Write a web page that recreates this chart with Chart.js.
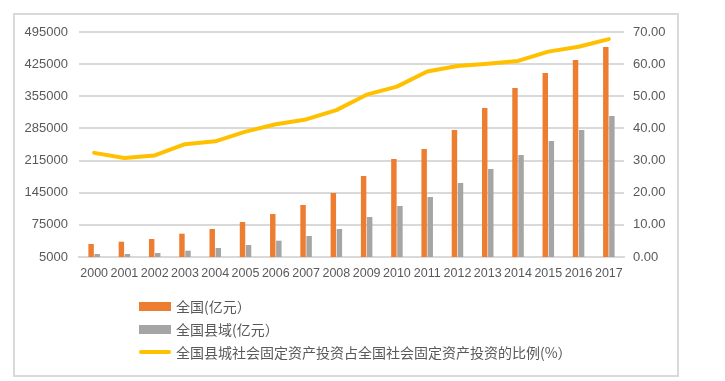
<!DOCTYPE html>
<html>
<head>
<meta charset="utf-8">
<script src="https://cdn.jsdelivr.net/npm/chart.js@4.4.1/dist/chart.umd.min.js"></script>
<style>
  html, body { margin: 0; padding: 0; background: #fff; }
  #wrap { position: relative; width: 725px; height: 381px; overflow: hidden; }
  #frame { position: absolute; left: 13px; top: 13px; width: 662px; height: 360px; border: 2px solid #d9d9d9; pointer-events: none; }
  #c { position: absolute; left: 0; top: 0; }
  #legend { position: absolute; left: 139px; top: 296px; font-family: "Noto Sans CJK SC", sans-serif; font-size: 14px; color: #595959; }
  .item { position: relative; height: 23px; line-height: 20px; white-space: nowrap; }
  .sw { position: absolute; left: 0; width: 32px; }
  .txt { position: absolute; left: 37px; top: 0; }
</style>
</head>
<body>
<div id="wrap">
  <canvas id="c" width="725" height="381"></canvas>
  <div id="frame"></div>
  <div id="legend"></div>
</div>
<script>
const categories = ["2000","2001","2002","2003","2004","2005","2006","2007","2008","2009","2010","2011","2012","2013","2014","2015","2016","2017"];
const nationalValues = [33300, 38300, 44200, 55800, 66000, 81200, 98600, 118300, 144400, 181400, 218400, 240200, 281600, 329500, 373000, 405700, 434000, 462300];
const countyValues = [11500, 11500, 13700, 18700, 24600, 31100, 40500, 50700, 66000, 92100, 116100, 135700, 166200, 196600, 227100, 257600, 281600, 312100];
const ratioValues = [32.4, 30.8, 31.6, 35.1, 36.0, 39.0, 41.3, 42.8, 45.7, 50.5, 53.0, 57.7, 59.4, 60.1, 61.0, 63.9, 65.4, 67.8];
const seriesNames = ["全国(亿元）", "全国县域(亿元）", "全国县城社会固定资产投资占全国社会固定资产投资的比例(%）"];
const leftTicks = { min: 5000, max: 495000, step: 70000 };
const rightTicks = { min: 0, max: 70, step: 10 };

const colors = ["#ED7D31", "#A5A5A5", "#FFC000"];
const tickColor = "#595959";
const gridColor = "#d9d9d9";

const chart = new Chart(document.getElementById("c"), {
  data: {
    labels: categories,
    datasets: [
      { type: "bar", label: seriesNames[0], data: nationalValues, backgroundColor: colors[0], yAxisID: "y", order: 2, categoryPercentage: 0.4, barPercentage: 0.9 },
      { type: "bar", label: seriesNames[1], data: countyValues, backgroundColor: colors[1], yAxisID: "y", order: 2, categoryPercentage: 0.4, barPercentage: 0.9 },
      { type: "line", label: seriesNames[2], data: ratioValues, borderColor: colors[2], backgroundColor: colors[2], borderWidth: 4, pointRadius: 0, tension: 0, yAxisID: "y1", order: 1, borderCapStyle: "round", borderJoinStyle: "round" }
    ]
  },
  options: {
    responsive: false,
    animation: false,
    devicePixelRatio: 1,
    layout: { padding: { top: 32, bottom: 0, left: 0, right: 0 } },
    plugins: { legend: { display: false }, tooltip: { enabled: false } },
    scales: {
      x: {
        type: "category",
        offset: true,
        grid: { display: false, drawTicks: false },
        border: { display: true, color: gridColor, width: 2 },
        ticks: { color: tickColor, font: { family: "'Liberation Sans Narrow', 'Liberation Sans', sans-serif", size: 12.5 }, padding: 9, maxRotation: 0, autoSkip: false },
        afterFit: s => { s.height = 124; }
      },
      y: {
        type: "linear",
        position: "left",
        min: leftTicks.min,
        max: leftTicks.max,
        grid: { color: gridColor, lineWidth: 2, drawTicks: false },
        border: { display: false },
        ticks: { stepSize: leftTicks.step, color: tickColor, font: { family: "'Liberation Sans', sans-serif", size: 13 }, padding: 11, callback: v => String(v) },
        afterFit: s => { s.width = 79; }
      },
      y1: {
        type: "linear",
        position: "right",
        min: rightTicks.min,
        max: rightTicks.max,
        grid: { display: false, drawTicks: false },
        border: { display: false },
        ticks: { stepSize: rightTicks.step, color: tickColor, font: { family: "'Liberation Sans', sans-serif", size: 13 }, padding: 9, callback: v => Number(v).toFixed(2) },
        afterFit: s => { s.width = 101; }
      }
    }
  }
});

// HTML legend built from the chart's datasets
const legend = document.getElementById("legend");
chart.data.datasets.forEach(ds => {
  const item = document.createElement("div");
  item.className = "item";
  const sw = document.createElement("span");
  sw.className = "sw";
  if (ds.type === "line") {
    sw.style.top = "8px"; sw.style.height = "4px"; sw.style.borderRadius = "2px";
    sw.style.background = ds.borderColor;
  } else {
    sw.style.top = "6px"; sw.style.height = "9px";
    sw.style.background = ds.backgroundColor;
  }
  const t = document.createElement("span");
  t.className = "txt";
  t.textContent = ds.label;
  item.appendChild(sw); item.appendChild(t);
  legend.appendChild(item);
});
</script>
</body>
</html>
